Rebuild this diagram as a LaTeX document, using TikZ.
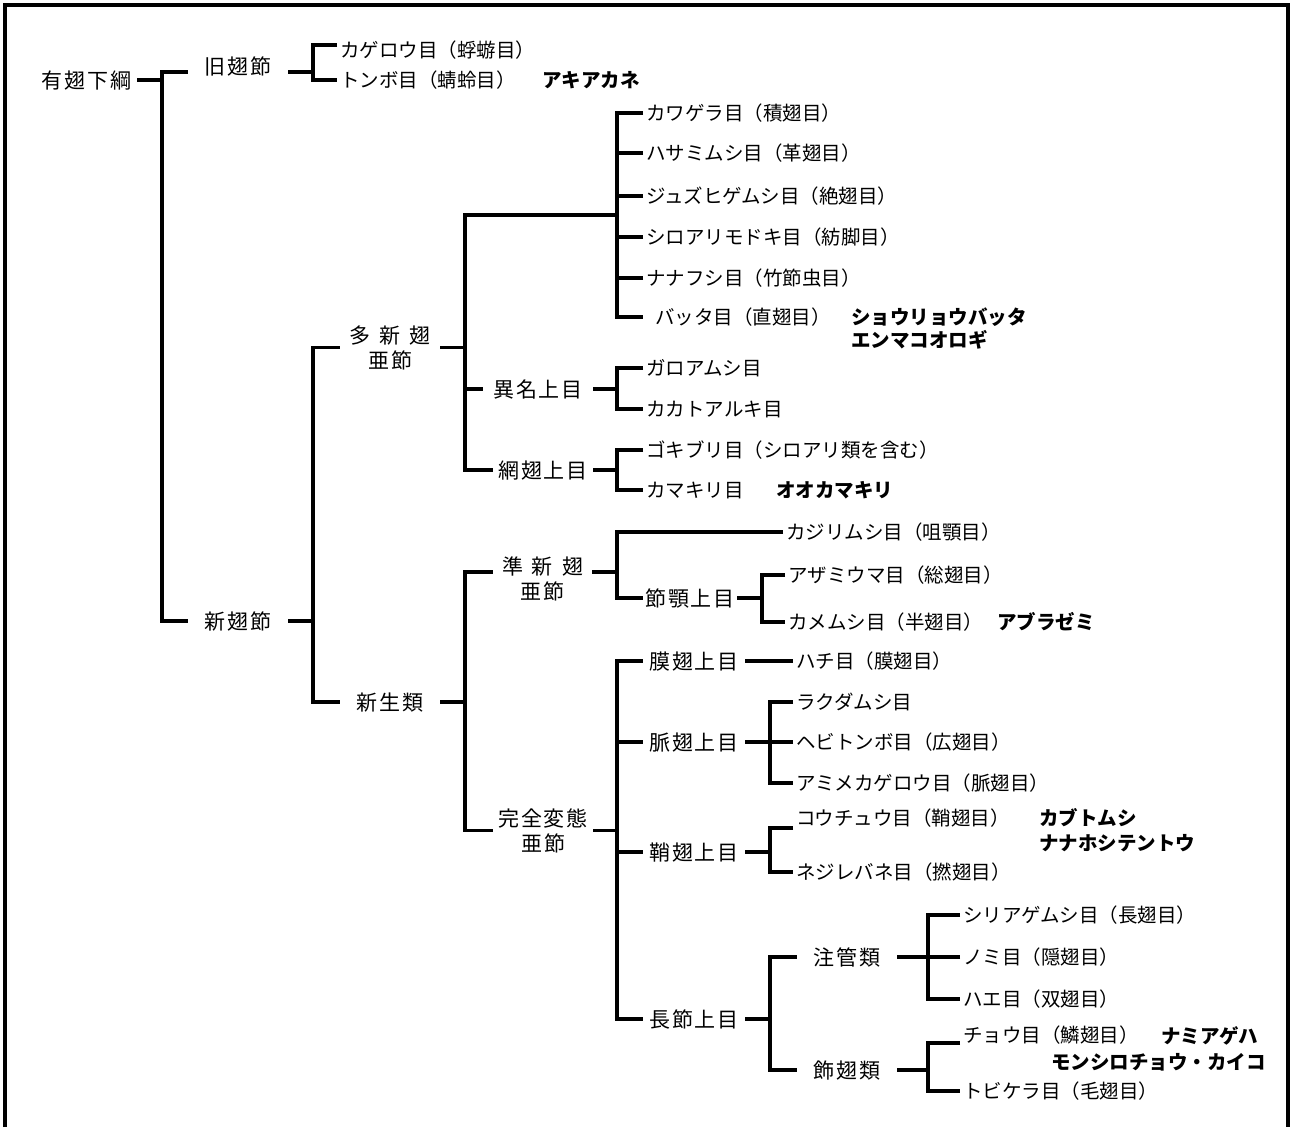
\documentclass[tikz,border=0pt]{standalone}
\usepackage{fontspec}
\newfontfamily\jp{Noto Sans CJK JP}
\newcommand\tk{\kern2pt}
\newcommand\tw{\kern9pt}
\begin{document}
\begin{tikzpicture}[x=1pt,y=-1pt,
  ln/.style={line width=3.2pt},
  base/.style={font=\jp\fontsize{19.5pt}{25pt}\selectfont, inner sep=0pt, text height=17.2pt, text depth=2.4pt},
  leaf/.style={base, anchor=west, inner xsep=3pt},
  bold/.style={base, anchor=west, font=\jp\bfseries\fontsize{19.5pt}{25pt}\selectfont},
  grp/.style={base, font=\jp\fontsize{21pt}{25pt}\selectfont, text height=18.5pt, text depth=2.5pt, minimum width=#1},
  grptwo/.style={font=\jp\fontsize{21pt}{25pt}\selectfont, inner sep=0pt, align=center, minimum width=#1},
  frame/.style={line width=3.5pt}
]
\useasboundingbox (0,0) rectangle (1295,1127);
\draw[frame] (5,1127) -- (5,5) -- (1288,5) -- (1288,1127);

% bracket x positions
\coordinate (x0) at (162,0);
\coordinate (x1) at (313,0);
\coordinate (x2) at (465,0);
\coordinate (x3) at (617,0);
\coordinate (x4) at (762,0);
\coordinate (x5) at (770,0);
\coordinate (x6) at (928,0);
\coordinate (ord) at (619,215);

% group labels
\node[grp=101pt] (root) at (86.5,80) {有\tk 翅\tk 下\tk 綱};
\node[grp=100pt] (kyu) at (238,66) {旧\tk 翅\tk 節};
\node[grp=100pt] (shin) at (238,621) {新\tk 翅\tk 節};
\node[grptwo=100pt] (tashin) at (390,347.5) {多\tw 新\tw 翅\\亜\tk 節};
\node[grp=100pt] (shinsei) at (390,702) {新\tk 生\tk 類};
\node[grp=110pt] (imei) at (538,389) {異\tk 名\tk 上\tk 目};
\node[grp=100pt] (mou) at (543,470) {網\tk 翅\tk 上\tk 目};
\node[grptwo=99pt] (junshin) at (542.5,578.5) {準\tw 新\tw 翅\\亜\tk 節};
\node[grptwo=100pt] (kanzen) at (543,830.5) {完\tk 全\tk 変\tk 態\\亜\tk 節};
\node[grp=94pt] (sekigaku) at (690,598) {節\tk 顎\tk 上\tk 目};
\node[grp=102pt] (maku) at (694,661) {膜\tk 翅\tk 上\tk 目};
\node[grp=102pt] (myaku) at (694,742) {脈\tk 翅\tk 上\tk 目};
\node[grp=102pt] (shou) at (694,852) {鞘\tk 翅\tk 上\tk 目};
\node[grp=102pt] (chousetsu) at (694,1019) {長\tk 節\tk 上\tk 目};
\node[grp=100pt] (chukan) at (847,957) {注\tk 管\tk 類};
\node[grp=100pt] (shoku) at (847,1070) {飾\tk 翅\tk 類};

% leaves
\node[leaf] (kagerou) at (337,50) {カゲロウ目（蜉蝣目）};
\node[leaf] (tonbo) at (337,80) {トンボ目（蜻蛉目）};
\node[leaf] (kawagera) at (643,113) {カワゲラ目（積翅目）};
\node[leaf] (hasami) at (643,153) {ハサミムシ目（革翅目）};
\node[leaf] (juzu) at (643,196) {ジュズヒゲムシ目（絶翅目）};
\node[leaf] (shiromodoki) at (643,237) {シロアリモドキ目（紡脚目）};
\node[leaf] (nanafushi) at (643,278) {ナナフシ目（竹節虫目）};
\node[leaf] (batta) at (643,317) {\kern9pt バッタ目（直翅目）};
\node[leaf] (garoa) at (643,368) {ガロアムシ目};
\node[leaf] (kakato) at (643,409) {カカトアルキ目};
\node[leaf] (gokiburi) at (643,450) {ゴキブリ目（シロアリ類を含む）};
\node[leaf] (kamakiri) at (643,490) {カマキリ目};
\node[leaf] (kajiri) at (783,532) {カジリムシ目（咀顎目）};
\node[leaf] (azami) at (785,575) {アザミウマ目（総翅目）};
\node[leaf] (kamemushi) at (785,622) {カメムシ目（半翅目）};
\node[leaf] (hachi) at (793,661) {ハチ目（膜翅目）};
\node[leaf] (rakuda) at (793,702) {ラクダムシ目};
\node[leaf] (hebi) at (793,742) {ヘビトンボ目（広翅目）};
\node[leaf] (amime) at (793,783) {アミメカゲロウ目（脈翅目）};
\node[leaf] (kochu) at (793,818) {コウチュウ目（鞘翅目）};
\node[leaf] (nejire) at (793,872) {ネジレバネ目（撚翅目）};
\node[leaf] (shiria) at (960,915) {シリアゲムシ目（長翅目）};
\node[leaf] (nomi) at (960,957) {ノミ目（隠翅目）};
\node[leaf] (hae) at (960,999) {ハエ目（双翅目）};
\node[leaf] (chou) at (960,1035) {チョウ目（鱗翅目）};
\node[leaf] (tobikera) at (960,1091) {トビケラ目（毛翅目）};

% bold examples
\node[bold] (akiakane) at (542,80) {アキアカネ};
\node[bold] (shouryou) at (851,317) {ショウリョウバッタ};
\node[bold] (enma) at (851,340) {エンマコオロギ};
\node[bold] (ookamakiri) at (776,490) {オオカマキリ};
\node[bold] (aburazemi) at (997,622) {アブラゼミ};
\node[bold] (kabuto) at (1039,818) {カブトムシ};
\node[bold] (nanahoshi) at (1039,843) {ナナホシテントウ};
\node[bold] (namiageha) at (1161,1036) {ナミアゲハ};
\node[bold] (monshiro) at (1051,1062) {モンシロチョウ・カイコ};

% connectors
\draw[ln] (root.east) -- (root.east -| x0);
\draw[ln] ([yshift=-6pt]kyu.west) -| (shin.west -| x0) -- (shin.west);
\draw[ln] ([yshift=-6pt]kyu.east) -- +(25,0);
\draw[ln] ([yshift=5pt]kagerou.west) -| (tonbo.west -| x1) -- (tonbo.west);
\draw[ln] (shin.east) -- (shin.east -| x1);
\draw[ln] (tashin.west) -| (shinsei.west -| x1) -- (shinsei.west);
\draw[ln] (tashin.east) -- (tashin.east -| x2);
\draw[ln] (ord) -| (mou.west -| x2) -- (mou.west);
\draw[ln] (imei.west) -- (imei.west -| x2);
\draw[ln] (kawagera.west) -| (batta.west -| x3) -- (batta.west);
\foreach \n in {hasami,juzu,shiromodoki,nanafushi}
  \draw[ln] (\n.west) -- (\n.west -| x3);
\draw[ln] (imei.east) -- (imei.east -| x3);
\draw[ln] (garoa.west) -| (kakato.west -| x3) -- (kakato.west);
\draw[ln] (mou.east) -- (mou.east -| x3);
\draw[ln] (gokiburi.west) -| (kamakiri.west -| x3) -- (kamakiri.west);
\draw[ln] (shinsei.east) -- (shinsei.east -| x2);
\draw[ln] ([yshift=6.5pt]junshin.west) -| (kanzen.west -| x2) -- (kanzen.west);
\draw[ln] ([yshift=6.5pt]junshin.east) -- +(25,0);
\draw[ln] (kajiri.west) -| (sekigaku.west -| x3) -- (sekigaku.west);
\draw[ln] (sekigaku.east) -- (sekigaku.east -| x4);
\draw[ln] (azami.west) -| (kamemushi.west -| x4) -- (kamemushi.west);
\draw[ln] (kanzen.east) -- (kanzen.east -| x3);
\draw[ln] (maku.west) -| (chousetsu.west -| x3) -- (chousetsu.west);
\draw[ln] (myaku.west) -- (myaku.west -| x3);
\draw[ln] (shou.west) -- (shou.west -| x3);
\draw[ln] (maku.east) -- (hachi.west);
\draw[ln] (myaku.east) -- (myaku.east -| x5);
\draw[ln] (rakuda.west) -| (amime.west -| x5) -- (amime.west);
\draw[ln] (hebi.west) -- (hebi.west -| x5);
\draw[ln] (shou.east) -- (shou.east -| x5);
\draw[ln] ([yshift=-10pt]kochu.west) -| (nejire.west -| x5) -- (nejire.west);
\draw[ln] (chousetsu.east) -- (chousetsu.east -| x5);
\draw[ln] (chukan.west) -| (shoku.west -| x5) -- (shoku.west);
\draw[ln] (chukan.east) -- (chukan.east -| x6);
\draw[ln] (shiria.west) -| (hae.west -| x6) -- (hae.west);
\draw[ln] (nomi.west) -- (nomi.west -| x6);
\draw[ln] (shoku.east) -- (shoku.east -| x6);
\draw[ln] ([yshift=-8pt]chou.west) -| (tobikera.west -| x6) -- (tobikera.west);
\end{tikzpicture}
\end{document}
